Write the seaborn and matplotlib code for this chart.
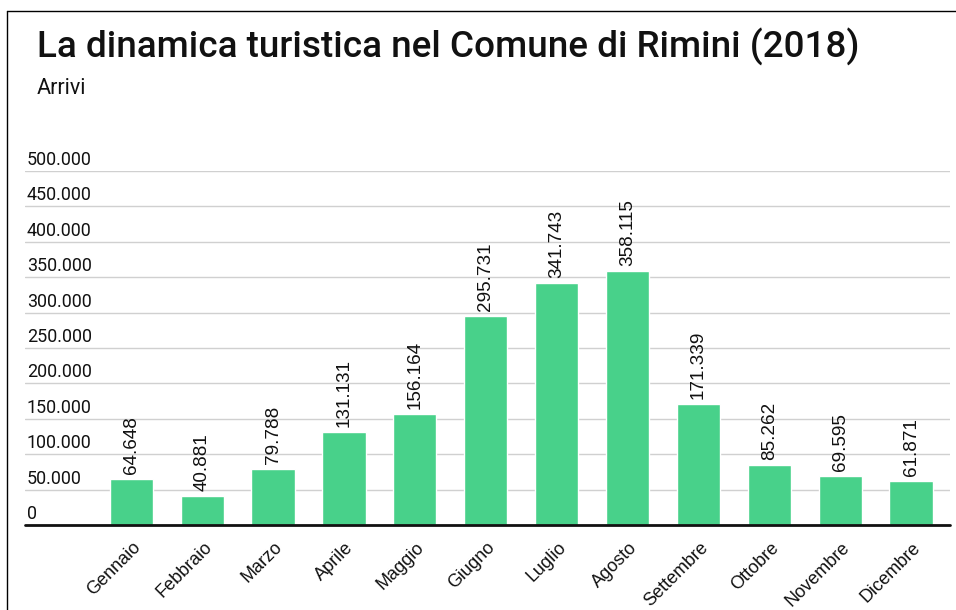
import matplotlib
matplotlib.use("Agg")
import matplotlib.pyplot as plt
import matplotlib.transforms as mtransforms
from matplotlib.lines import Line2D
import seaborn as sns
import pandas as pd

# Monthly tourist arrivals, Comune di Rimini, 2018
months = ["Gennaio", "Febbraio", "Marzo", "Aprile", "Maggio", "Giugno",
          "Luglio", "Agosto", "Settembre", "Ottobre", "Novembre", "Dicembre"]
arrivals = [64648, 40881, 79788, 131131, 156164, 295731,
            341743, 358115, 171339, 85262, 69595, 61871]
y_ticks = [0, 50000, 100000, 150000, 200000, 250000,
           300000, 350000, 400000, 450000, 500000]

title = "La dinamica turistica nel Comune di Rimini (2018)"
subtitle = "Arrivi"

BAR = "#48D18A"
FONT = ["Roboto", "DejaVu Sans"]
ARIAL = ["Liberation Sans", "DejaVu Sans"]


def it_fmt(v):
    return f"{v:,.0f}".replace(",", ".")


df = pd.DataFrame({"mese": months, "arrivi": arrivals})

sns.set_theme(style="white")
plt.rcParams["font.family"] = FONT

W, H = 956, 610
fig = plt.figure(figsize=(W / 100, H / 100), dpi=100)
ax = fig.add_axes([25 / W, 1 - 525 / H, (950 - 25) / W, (525 - 171) / H])

sns.barplot(data=df, x="mese", y="arrivi", color=BAR, saturation=1,
            width=0.61, ax=ax, zorder=3)

ax.set_xlim(-1.5, len(months) - 0.45)
ax.set_ylim(0, 500000)
ax.set_xlabel("")
ax.set_ylabel("")
for s in ax.spines.values():
    s.set_visible(False)

# horizontal gridlines with labels sitting just above them
ax.set_yticks([])
lab_tr = ax.get_yaxis_transform() + mtransforms.ScaledTranslation(0, 6 / 100, fig.dpi_scale_trans)
for t in y_ticks:
    if t > 0:
        ax.axhline(t, color="#d0d0d0", lw=1.0, zorder=1)
    ax.text(0.002, t, it_fmt(t), transform=lab_tr, ha="left", va="baseline",
            fontsize=12.9, color="#111111")
ax.axhline(0, color="#111111", lw=2.0, zorder=4, clip_on=False)

# month labels
ax.tick_params(axis="x", length=0, pad=10)
ax.set_xticks(range(len(months)))
ax.set_xticklabels(months, rotation=45, ha="right", rotation_mode="anchor",
                   fontsize=13, color="#111111", family=ARIAL)
shift = mtransforms.ScaledTranslation(1 / 100, 0, fig.dpi_scale_trans)
for lbl in ax.get_xticklabels():
    lbl.set_transform(lbl.get_transform() + shift)

# value labels above bars
val_tr = ax.transData + mtransforms.ScaledTranslation(0, 5 / 100, fig.dpi_scale_trans)
for i, v in enumerate(arrivals):
    ax.text(i, v, it_fmt(v), transform=val_tr, rotation=90, ha="center",
            va="bottom", fontsize=13.6, color="#111111", clip_on=False,
            family=ARIAL)

fig.text(37 / W, 1 - 47 / H, title, ha="left", va="center",
         fontsize=26.6, fontweight="medium", color="#111111")
fig.text(37 / W, 1 - 89 / H, subtitle, ha="left", va="center",
         fontsize=15.5, color="#111111")

# frame lines at top and left edge
fig.add_artist(Line2D([7 / W, 1], [1 - 11 / H, 1 - 11 / H], color="black", lw=1.0,
                      transform=fig.transFigure))
fig.add_artist(Line2D([7 / W, 7 / W], [0, 1 - 11 / H], color="black", lw=1.0,
                      transform=fig.transFigure))

fig.savefig("out.png", dpi=100, facecolor="white")
